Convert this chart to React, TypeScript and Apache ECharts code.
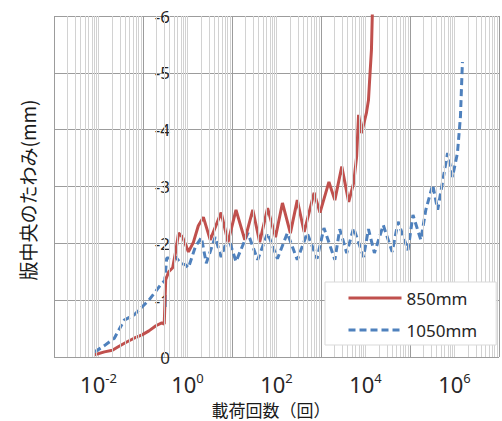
import React, { useEffect, useRef } from 'react';
import * as echarts from 'echarts';

// Loading cycles (回) and mid-plate deflection (mm)
const cycles850 = [
  0.0082, 0.0136, 0.0205, 0.029, 0.042, 0.063, 0.095, 0.136, 0.195, 0.264, 0.3,
  0.324, 0.378, 0.464, 0.541, 0.631, 0.774, 1.05, 1.36, 1.75, 2.27, 3.24, 5.7,
  8.15, 12.3, 19.4, 29.3, 41.9, 63.1, 95, 136, 205, 293, 419, 699, 950, 1507,
  2047, 2930, 4190, 5410, 6310, 6990, 8150, 10520, 11660, 12270, 13600, 14300,
];
const defl850 = [
  -0.04, -0.09, -0.12, -0.19, -0.26, -0.33, -0.39, -0.46, -0.55, -0.6, -0.58,
  -1.36, -1.5, -1.57, -1.85, -2.18, -2.11, -1.85, -2.02, -2.31, -2.46, -2.06, -2.54,
  -2.02, -2.59, -2.06, -2.59, -2.02, -2.62, -2.11, -2.71, -2.18, -2.76, -2.2, -2.89, -2.54, -3.08,
  -2.76, -3.35, -2.73, -3.06, -3.52, -4.26, -3.94, -4.3, -4.52, -4.82, -5.4, -6.1,
];

const cycles1050 = [
  0.0082, 0.0136, 0.0227, 0.0379, 0.063, 0.095, 0.136, 0.195, 0.264, 0.308,
  0.341, 0.378, 0.541, 0.699, 0.903, 1.05, 1.5, 2.05, 2.64, 4.19, 5.7, 8.15,
  12.3, 22.7, 37.8, 63.1, 105, 175, 293, 489, 815, 1166, 2047, 2640, 3780, 5410,
  9030, 11660, 15850, 25100, 39800, 54100, 90300, 116600, 175000, 227000, 324000,
  419000, 489000, 699000, 903000, 1166000, 1360000, 1507000,
];
const defl1050 = [
  -0.09, -0.2, -0.33, -0.65, -0.74, -0.88, -1.0, -1.16, -1.3, -1.34,
  -1.74, -1.74, -1.76, -1.65, -1.62, -1.57, -1.94, -2.1, -1.65, -2.11, -1.76, -2.11,
  -1.68, -2.18, -1.71, -2.18, -1.73, -2.18, -1.71, -2.18, -1.73, -2.27, -1.71, -2.25, -1.83, -2.27,
  -1.76, -2.25, -1.83, -2.32, -1.85, -2.38, -1.88, -2.5, -2.06, -2.59, -3.03,
  -2.59, -2.89, -3.59, -3.17, -3.59, -4.23, -5.19,
];

const seriesNames = ['850mm', '1050mm'];
const xExpMin = -3;
const xExpMax = 7;
const yTickMin = -6;
const yTickMax = 0;

const NUM_FONT = '"Noto Sans", "DejaVu Sans", sans-serif';
const JP_FONT = '"Noto Sans CJK JP", "Noto Sans", sans-serif';

export default function App() {
  const ref = useRef<HTMLDivElement>(null);

  useEffect(() => {
    if (!ref.current) return;
    const chart = echarts.init(ref.current, undefined, { renderer: 'svg' });

    const toLog = (n: number[], v: number[]) => n.map((x, i) => [Math.log10(x), v[i]]);

    // minor vertical grid lines at k*10^d (k = 2..9)
    const minorLines: any[] = [];
    for (let d = xExpMin; d < xExpMax; d++) {
      for (let k = 2; k <= 9; k++) {
        minorLines.push({ xAxis: d + Math.log10(k) });
      }
    }

    const option: any = {
      animation: false,
      backgroundColor: '#ffffff',
      grid: { left: 54, top: 16, width: 450, height: 341, containLabel: false },
      xAxis: {
        type: 'value',
        min: xExpMin,
        max: xExpMax,
        interval: 1,
        axisLine: { show: false },
        axisTick: { show: false },
        splitLine: {
          show: true,
          lineStyle: { color: ['#9c9c9c', '#d2d2d2'], width: 1 },
        },
        axisLabel: {
          margin: 14,
          formatter: (v: number) => {
            const e = Math.round(v);
            if (e % 2 !== 0) return '';
            return `{b|10}{s|${e}}`;
          },
          rich: {
            b: { fontSize: 22, fontFamily: NUM_FONT, color: '#262626', lineHeight: 24, verticalAlign: 'bottom' },
            s: { fontSize: 13, fontFamily: NUM_FONT, color: '#262626', lineHeight: 14, verticalAlign: 'top' },
          },
        },
      },
      yAxis: {
        type: 'value',
        min: yTickMin,
        max: yTickMax,
        interval: 1,
        inverse: true,
        offset: -120,
        axisLine: { show: false },
        axisTick: { show: false },
        splitLine: { show: true, lineStyle: { color: '#9c9c9c', width: 1 } },
        axisLabel: { margin: 4, fontSize: 17, fontFamily: NUM_FONT, color: '#262626' },
      },
      legend: {
        data: seriesNames,
        orient: 'vertical',
        left: 325,
        top: 282,
        z: 20,
        padding: [6, 19, 5, 22],
        itemWidth: 53,
        itemHeight: 14,
        itemGap: 12,
        backgroundColor: '#ffffff',
        borderColor: '#d9d9d9',
        borderWidth: 1,
        itemStyle: { opacity: 0 },
        lineStyle: { width: 3 },
        textStyle: { fontSize: 17, fontFamily: NUM_FONT, color: '#262626', lineHeight: 20 },
      },
      series: [
        {
          type: 'line',
          name: 'grid',
          data: [[xExpMin, 0]],
          symbol: 'none',
          lineStyle: { width: 0 },
          silent: true,
          z: 1,
          markLine: {
            silent: true,
            symbol: ['none', 'none'],
            label: { show: false },
            lineStyle: { color: '#d2d2d2', width: 1, type: 'solid' },
            emphasis: { disabled: true },
            data: minorLines,
          },
        },
        {
          type: 'line',
          name: seriesNames[0],
          data: toLog(cycles850, defl850),
          symbol: 'none',
          lineStyle: { color: '#C0504D', width: 3 },
          itemStyle: { color: '#C0504D' },
          z: 4,
        },
        {
          type: 'line',
          name: seriesNames[1],
          data: toLog(cycles1050, defl1050),
          symbol: 'none',
          lineStyle: { color: '#4F81BD', width: 3, type: [7, 4] },
          itemStyle: { color: '#4F81BD' },
          z: 3,
        },
      ],
      graphic: [
        {
          type: 'text',
          x: 27,
          y: 190,
          rotation: Math.PI / 2,
          style: {
            text: '版中央のたわみ(mm)',
            fontSize: 19,
            fontFamily: JP_FONT,
            fill: '#1a1a1a',
            align: 'center',
            verticalAlign: 'middle',
          },
        },
        {
          type: 'text',
          x: 271,
          y: 409,
          style: {
            text: '載荷回数（回）',
            fontSize: 17,
            fontFamily: JP_FONT,
            fill: '#1a1a1a',
            align: 'center',
            verticalAlign: 'middle',
          },
        },
      ],
    };

    chart.setOption(option);
    return () => chart.dispose();
  }, []);

  return (
    <div
      ref={ref}
      style={{ position: 'fixed', left: 0, top: 0, width: 502, height: 421, background: '#fff' }}
    />
  );
}
